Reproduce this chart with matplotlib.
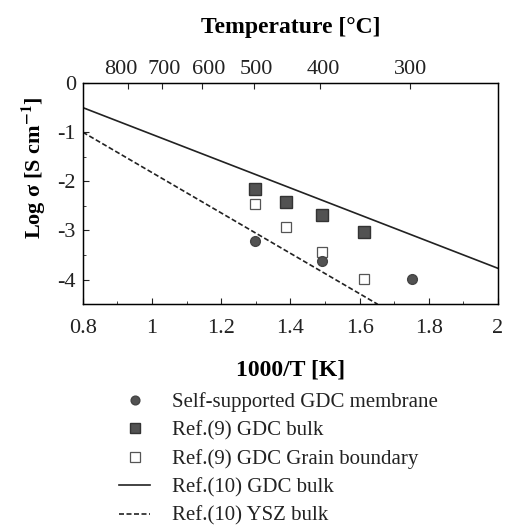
import matplotlib.pyplot as plt
import matplotlib.transforms as mtransforms
from matplotlib.ticker import MultipleLocator

plt.rcParams["font.family"] = ["Liberation Serif", "DejaVu Serif"]
plt.rcParams["mathtext.fontset"] = "stix"

# data
inv_t_ref9 = [1.298, 1.388, 1.492, 1.612]
ref9_bulk = [-2.15, -2.42, -2.68, -3.04]
ref9_gb = [-2.47, -2.92, -3.44, -3.98]

inv_t_mem = [1.298, 1.492, 1.752]
membrane = [-3.22, -3.62, -3.99]

gdc_line_x = [0.8, 2.0]
gdc_line_y = [-0.5, -3.77]
ysz_line_x = [0.8, 1.652]
ysz_line_y = [-1.0, -4.5]

temps_c = [800, 700, 600, 500, 400, 300]
# small nudges of the top labels so they do not collide (pixels)
temp_label_shift = [-8, 3, 6, 3, 3, 1]

x_ticks = [0.8, 1.0, 1.2, 1.4, 1.6, 1.8, 2.0]
x_ticklabels = ["0.8", "1", "1.2", "1.4", "1.6", "1.8", "2"]
y_ticks = [0, -1, -2, -3, -4]
y_ticklabels = ["0", "-1", "-2", "-3", "-4"]

grey = "#525252"
ink = "#222222"

fig = plt.figure(figsize=(5.05, 5.29), dpi=100)
ax = fig.add_axes([0.164, 0.425, 0.822, 0.418])

l_gdc, = ax.plot(gdc_line_x, gdc_line_y, color=ink, lw=1.2)
l_ysz, = ax.plot(ysz_line_x, ysz_line_y, color=ink, lw=1.2, ls=(0, (3, 1.5)))
h_bulk, = ax.plot(inv_t_ref9, ref9_bulk, "s", color=grey, mec="#333333", ms=8, ls="none")
h_gb, = ax.plot(inv_t_ref9, ref9_gb, "s", mfc="white", mec="#555555", ms=7.5, mew=0.9, ls="none")
h_mem, = ax.plot(inv_t_mem, membrane, "o", color=grey, mec="#444444", ms=7, ls="none")

ax.set_xlim(0.8, 2.0)
ax.set_ylim(-4.5, 0)
ax.set_xticks(x_ticks)
ax.set_xticklabels(x_ticklabels)
ax.set_yticks(y_ticks)
ax.set_yticklabels(y_ticklabels)
ax.xaxis.set_minor_locator(MultipleLocator(0.1))
ax.yaxis.set_minor_locator(MultipleLocator(0.5))
ax.tick_params(which="both", direction="in", labelsize=16, colors=ink)
ax.tick_params(which="major", length=4)
ax.tick_params(which="minor", length=2.5)
ax.tick_params(axis="x", pad=10.5)
ax.tick_params(axis="y", pad=5)
for s in ax.spines.values():
    s.set_linewidth(1.0)

ax.set_xlabel("1000/T [K]", fontsize=17, fontweight="bold")
ax.xaxis.set_label_coords(0.5, -0.25)
ax.set_ylabel(r"Log σ [S cm$^{\mathbf{-1}}$]", fontsize=16, fontweight="bold")
ax.yaxis.set_label_coords(-0.085, 0.618)

top = ax.twiny()
top.set_xlim(ax.get_xlim())
top.set_xticks([1000.0 / (t + 273.15) for t in temps_c])
top.set_xticklabels([str(t) for t in temps_c])
top.tick_params(direction="in", length=4, labelsize=16, colors=ink, pad=3)
for lab, dx in zip(top.get_xticklabels(), temp_label_shift):
    lab.set_transform(lab.get_transform() + mtransforms.ScaledTranslation(dx / 100, 0, fig.dpi_scale_trans))
top.set_xlabel("Temperature [°C]", fontsize=17, fontweight="bold")
top.xaxis.set_label_coords(0.5, 1.225)

fig.legend(
    [h_mem, h_bulk, h_gb, l_gdc, l_ysz],
    ["Self-supported GDC membrane", "Ref.(9) GDC bulk", "Ref.(9) GDC Grain boundary",
     "Ref.(10) GDC bulk", "Ref.(10) YSZ bulk"],
    loc="upper left", bbox_to_anchor=(0.22, 0.274), frameon=False, fontsize=15,
    handlelength=1.45, handletextpad=1.05, labelspacing=0.42, borderaxespad=0,
    markerscale=0.9, labelcolor=ink,
)

fig.savefig("out.png", dpi=100)
